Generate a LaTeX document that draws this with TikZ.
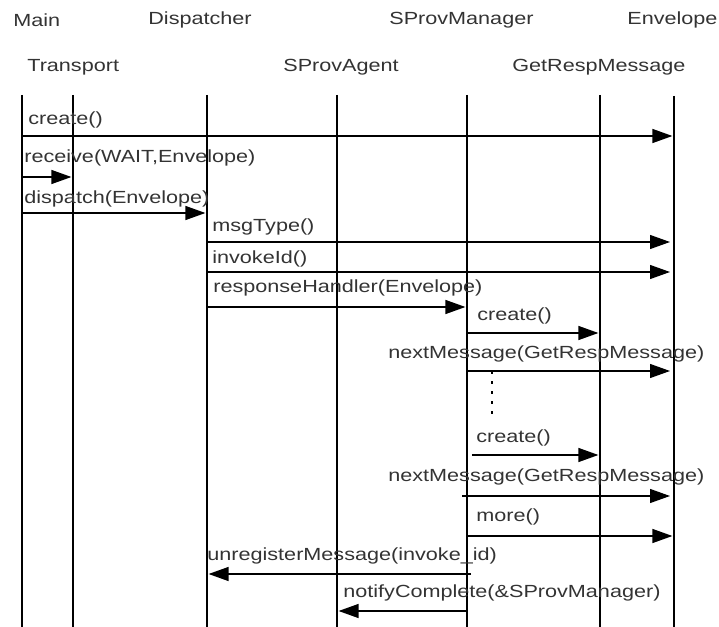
\documentclass[tikz,border=0pt]{standalone}
\usepackage{fontspec}
\setmainfont{Liberation Sans}
\usetikzlibrary{arrows.meta,positioning}

\begin{document}
\begin{tikzpicture}[
  x=0.25mm, y=-0.25mm,
  object/.style={anchor=west, inner sep=0pt, font=\fontsize{12.5}{14}\selectfont, text=black!80, xscale=1.23},
  msg label/.style={anchor=west, inner sep=0pt, font=\fontsize{12.5}{14}\selectfont, text=black!80, xscale=1.23},
  lifeline/.style={line width=1.3pt},
  call/.style={->, line width=0.9pt, shorten >=0.4mm},
  >={Triangle[length=5mm,width=3.5mm]}
]
  \useasboundingbox (0,0) rectangle (719,627);

  % object names, two rows
  \node[object] (mainhd)  at (13,20)  {Main};
  \node[object] (disphd)  at (148,20) {Dispatcher};
  \node[object] (mgrhd)   at (389,20) {SProvManager};
  \node[object] (envhd)   at (627,20) {Envelope};
  \node[object] (trhd)    at (27,67)  {Transport};
  \node[object] (agenthd) at (283,67) {SProvAgent};
  \node[object] (resphd)  at (512,67) {GetRespMessage};

  % lifelines
  \coordinate (bottom) at (0,627);
  \coordinate (main)  at (22,95);
  \coordinate (tr)    at (73,95);
  \coordinate (disp)  at (207,95);
  \coordinate (agent) at (337,95);
  \coordinate (mgr)   at (467,95);
  \coordinate (resp)  at (600,95);
  \coordinate (env)   at (674,96);
  \draw[lifeline] (main) -- (main |- bottom);
  \draw[lifeline] (tr) -- (tr |- bottom);
  \draw[lifeline] (disp) -- (disp |- bottom);
  \draw[lifeline] (agent) -- (agent |- bottom);
  \draw[lifeline] (mgr) -- (mgr |- bottom);
  \draw[lifeline] (resp) -- (resp |- bottom);
  \draw[lifeline] (env) -- (env |- bottom);

  % messages from Main
  \node[msg label] (create1) at (28,120) {create()};
  \draw[call] (main |- 0,136) -- (env |- 0,136);
  \node[msg label] (receive) at (24,158) {receive(WAIT,Envelope)};
  \draw[call] (main |- 0,177) -- (tr |- 0,177);
  \node[msg label] (dispatch) at (24,199) {dispatch(Envelope)};
  \draw[call] (main |- 0,213) -- (disp |- 0,213);

  % messages from Dispatcher
  \node[msg label] (msgtype) at (212,227) {msgType()};
  \draw[call, shorten >=1mm] (disp |- 0,242) -- (env |- 0,242);
  \node[msg label] (invokeid) at (212,259) {invokeId()};
  \draw[call, shorten >=1mm] (disp |- 0,272) -- (env |- 0,272);
  \node[msg label] (handler) at (213,288) {responseHandler(Envelope)};
  \draw[call] (disp |- 0,307) -- (mgr |- 0,307);

  % messages from SProvManager
  \node[msg label] (create2) at (477,316) {create()};
  \draw[call] (mgr |- 0,333) -- (resp |- 0,333);
  \node[msg label] (next1) at (388,354) {nextMessage(GetRespMessage)};
  \draw[call, shorten >=1mm] (mgr |- 0,371) -- (env |- 0,371);

  % repetition
  \draw[line width=1.2pt, dash pattern=on 0.8mm off 1.7mm] (492,371) -- (492,415);

  \node[msg label] (create3) at (476,438) {create()};
  \draw[call, shorten <=1.2mm] (mgr |- 0,455) -- (resp |- 0,455);
  \node[msg label] (next2) at (388,477) {nextMessage(GetRespMessage)};
  \draw[call, shorten <=-1.2mm, shorten >=1mm] (mgr |- 0,496) -- (env |- 0,496);
  \node[msg label] (more) at (476,517) {more()};
  \draw[call] (mgr |- 0,536) -- (env |- 0,536);

  % replies back
  \node[msg label] (unregister) at (207,556) {unregisterMessage(invoke\_id)};
  \draw[call, shorten <=-1mm] (mgr |- 0,574) -- (disp |- 0,574);
  \node[msg label] (notify) at (343,593) {notifyComplete(\&SProvManager)};
  \draw[call] (mgr |- 0,611) -- (agent |- 0,611);
\end{tikzpicture}
\end{document}
